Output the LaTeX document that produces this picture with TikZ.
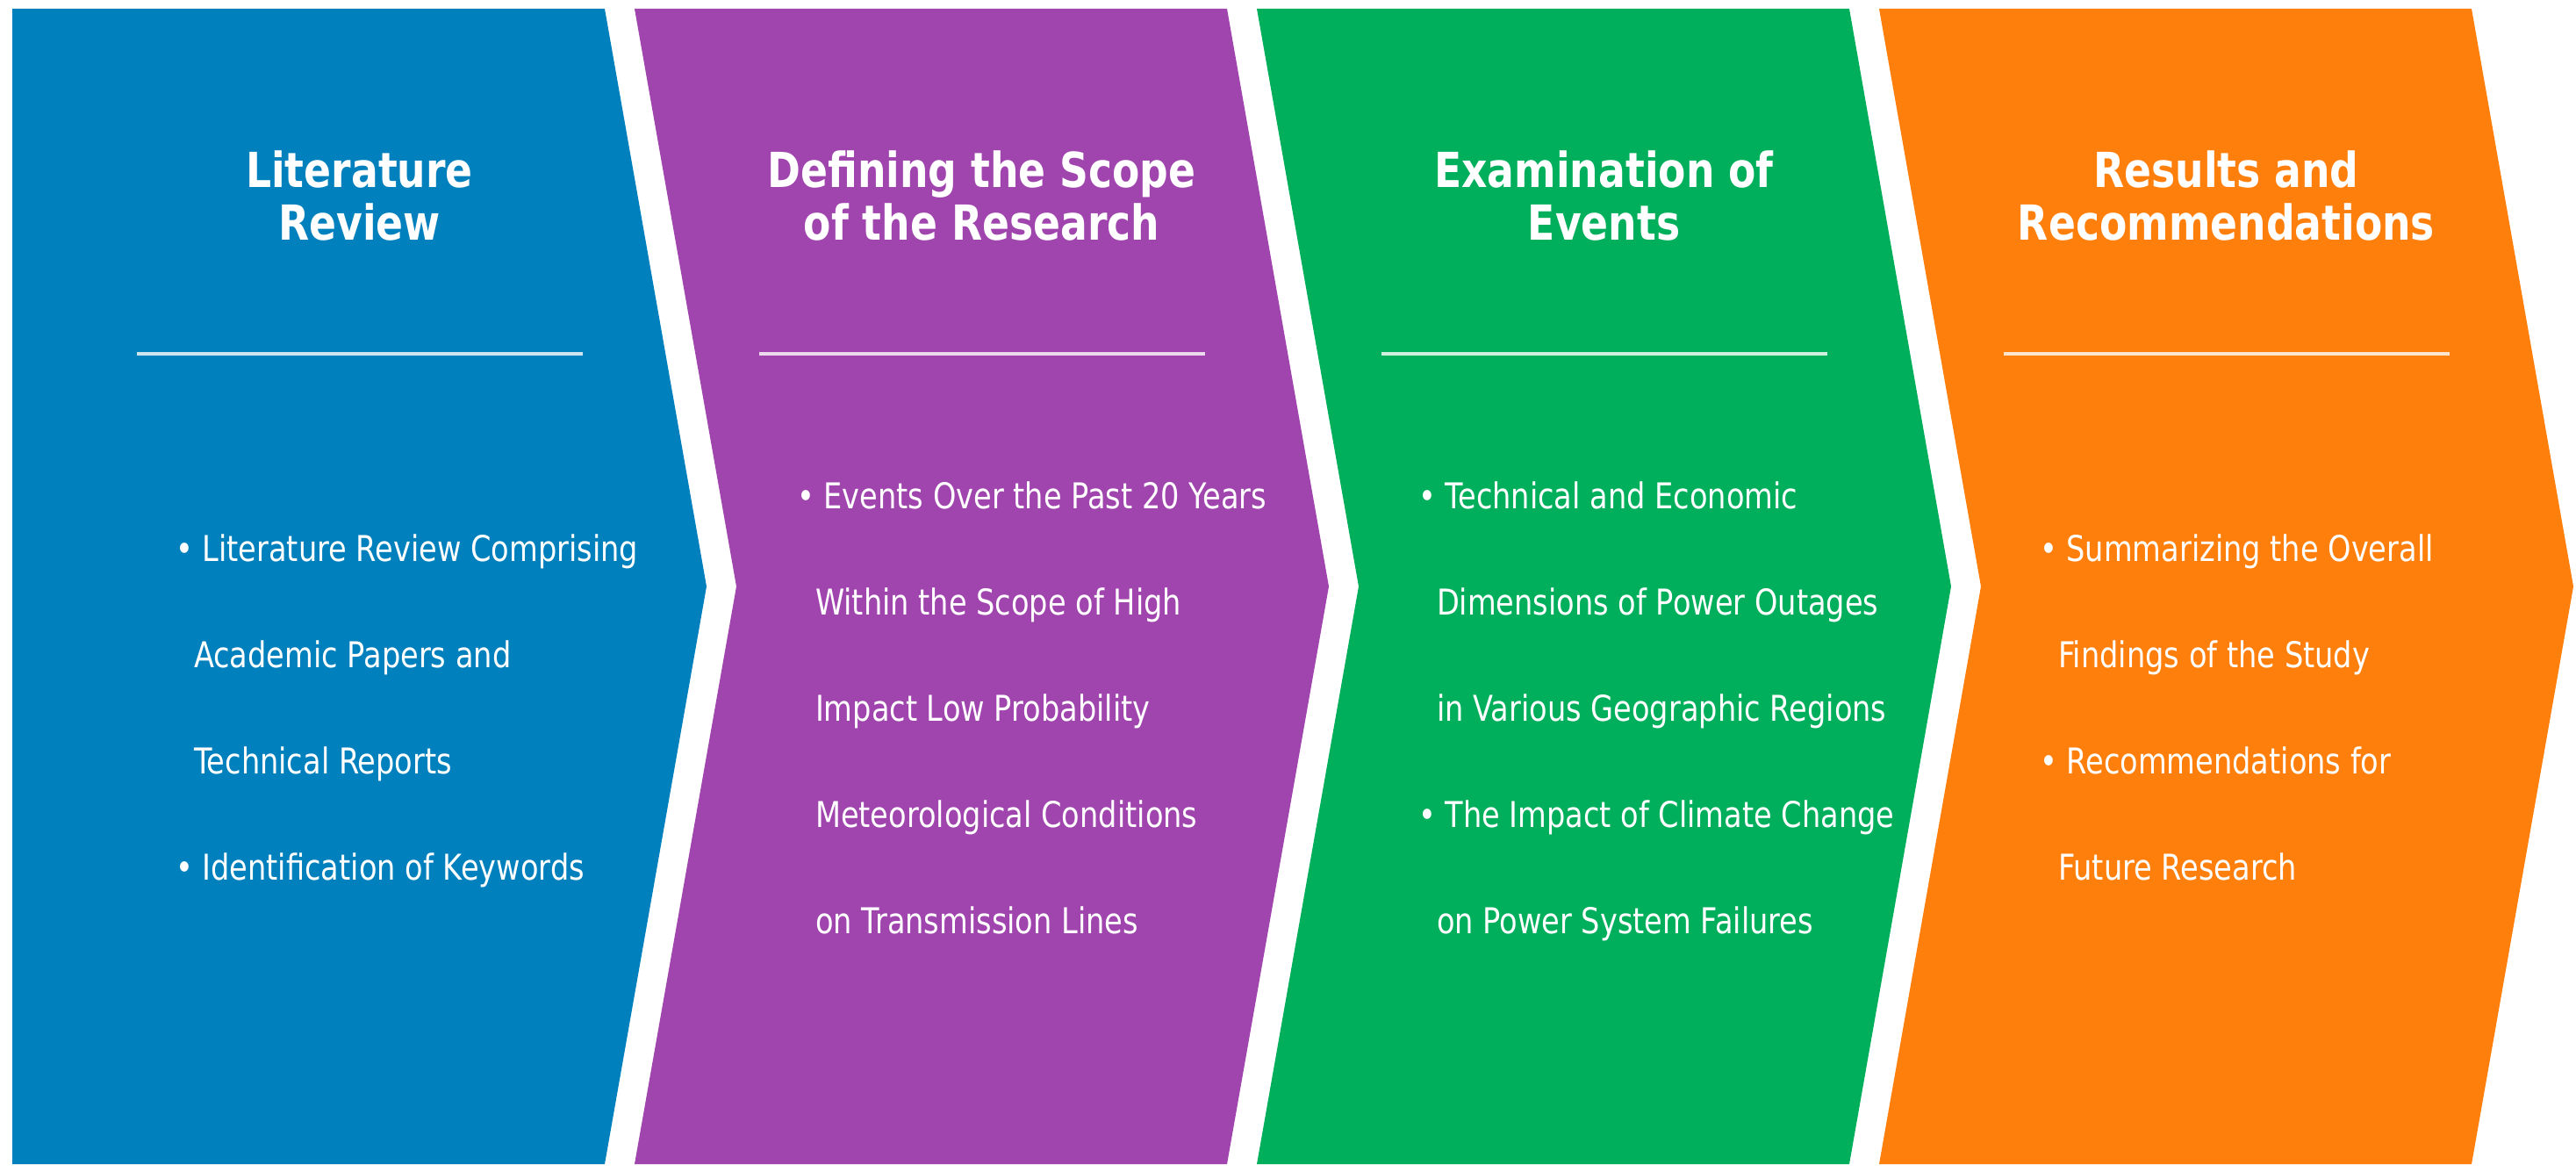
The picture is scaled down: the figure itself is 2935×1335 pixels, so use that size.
\documentclass[tikz,border=0pt]{standalone}
\usepackage{fontspec}
\setmainfont{DejaVu Sans}[FakeStretch=0.83]
\definecolor{cblue}{HTML}{0080BC}
\definecolor{cpurple}{HTML}{A044AE}
\definecolor{cgreen}{HTML}{00AF5B}
\definecolor{corange}{HTML}{FF7F0C}
\begin{document}
\begin{tikzpicture}[x=1pt,y=-1pt,
  bodytext/.style={text=white,inner sep=0pt,outer sep=0pt,anchor=base west,font=\fontsize{40.5}{48}\selectfont},
  titletext/.style={text=white,inner sep=0pt,outer sep=0pt,anchor=base,font=\bfseries\fontsize{55}{60}\selectfont},
  rulestyle/.style={draw=white,draw opacity=0.8,line width=4pt}]
\useasboundingbox (0,0) rectangle (2935,1335);
\fill[white] (0,0) rectangle (2935,1335);

% chevrons
\fill[cblue] (14,10) -- (689,10) -- (805,668) -- (689,1326) -- (14,1326) -- cycle;
\fill[cpurple] (723,10) -- (1398,10) -- (1514,668) -- (1398,1326) -- (723,1326) -- (839,668) -- cycle;
\fill[cgreen] (1432,10) -- (2107,10) -- (2223,668) -- (2107,1326) -- (1432,1326) -- (1548,668) -- cycle;
\fill[corange] (2141,10) -- (2816,10) -- (2932,668) -- (2816,1326) -- (2141,1326) -- (2257,668) -- cycle;

% titles
\node[titletext] (t1a) at (409.5,213) {Literature};
\node[titletext] (t1b) at (409.5,273) {Review};
\node[titletext] (t2a) at (1118.5,213) {Defining the Scope};
\node[titletext] (t2b) at (1118.5,273) {of the Research};
\node[titletext] (t3a) at (1827.5,213) {Examination of};
\node[titletext] (t3b) at (1827.5,273) {Events};
\node[titletext] (t4a) at (2536.5,213) {Results and};
\node[titletext] (t4b) at (2536.5,273) {Recommendations};

% rules
\draw[rulestyle] (155.5,403) -- (663.5,403);
\draw[rulestyle] (864.5,403) -- (1372.5,403);
\draw[rulestyle] (1573.5,403) -- (2081.5,403);
\draw[rulestyle] (2282.5,403) -- (2790.5,403);

% blue body
\node[bodytext] (b1) at (200,639) {• Literature Review Comprising};
\node[bodytext] (b2) at (221,760) {Academic Papers and};
\node[bodytext] (b3) at (221,881) {Technical Reports};
\node[bodytext] (b4) at (200,1002) {• Identification of Keywords};

% purple body
\node[bodytext] (p1) at (908,579) {• Events Over the Past 20 Years};
\node[bodytext] (p2) at (929,700) {Within the Scope of High};
\node[bodytext] (p3) at (929,821) {Impact Low Probability};
\node[bodytext] (p4) at (929,942) {Meteorological Conditions};
\node[bodytext] (p5) at (929,1063) {on Transmission Lines};

% green body
\node[bodytext] (g1) at (1616,579) {• Technical and Economic};
\node[bodytext] (g2) at (1637,700) {Dimensions of Power Outages};
\node[bodytext] (g3) at (1637,821) {in Various Geographic Regions};
\node[bodytext] (g4) at (1616,942) {• The Impact of Climate Change};
\node[bodytext] (g5) at (1637,1063) {on Power System Failures};

% orange body
\node[bodytext] (o1) at (2324,639) {• Summarizing the Overall};
\node[bodytext] (o2) at (2345,760) {Findings of the Study};
\node[bodytext] (o3) at (2324,881) {• Recommendations for};
\node[bodytext] (o4) at (2345,1002) {Future Research};
\end{tikzpicture}
\end{document}
